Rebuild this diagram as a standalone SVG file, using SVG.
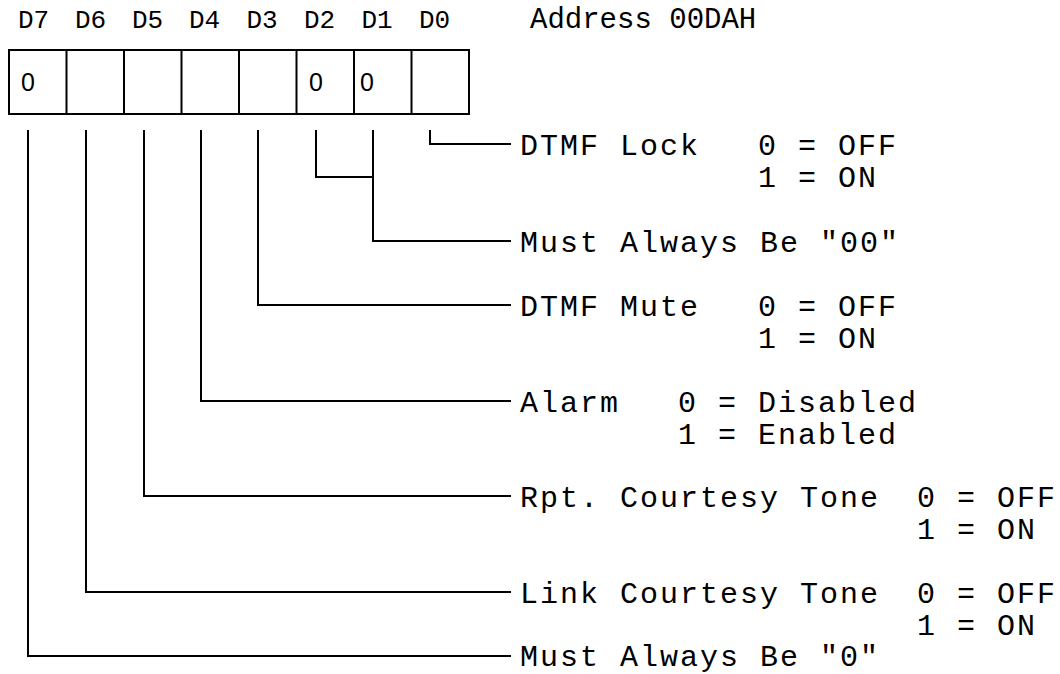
<svg xmlns="http://www.w3.org/2000/svg" width="1060" height="674" viewBox="0 0 1060 674">
<style>
.t{font-family:"Liberation Mono","Courier New",monospace;font-size:30px;letter-spacing:2px;fill:#000}
.a{font-family:"Liberation Mono","Courier New",monospace;font-size:29px;fill:#000}
.h{font-family:"Liberation Mono","Courier New",monospace;font-size:26px;fill:#000;text-anchor:middle}
.c{font-family:"Liberation Sans",Arial,sans-serif;font-size:25px;fill:#000}
.ln{fill:none;stroke:#000;stroke-width:2}
</style>
<rect width="1060" height="674" fill="#fff"/>
<g id="header">
<text class="h" x="33.5" y="28">D7</text>
<text class="h" x="90.5" y="28">D6</text>
<text class="h" x="147.5" y="28">D5</text>
<text class="h" x="204.5" y="28">D4</text>
<text class="h" x="262" y="28">D3</text>
<text class="h" x="319.5" y="28">D2</text>
<text class="h" x="377" y="28">D1</text>
<text class="h" x="434.5" y="28">D0</text>
<text class="a" x="530" y="28">Address 00DAH</text>
</g>
<g id="register">
<rect class="ln" x="9" y="50" width="460" height="64"/>
<path class="ln" d="M66.5 50V114M124 50V114M181.5 50V114M239 50V114M296.5 50V114M354 50V114M411.5 50V114"/>
<text class="c" x="21" y="91">0</text>
<text class="c" x="309" y="91">0</text>
<text class="c" x="360" y="91">0</text>
</g>
<g id="connectors">
<path class="ln" d="M430 130V144H511"/>
<path class="ln" stroke-width="1.5" d="M316 130V177H373"/>
<path class="ln" d="M373 130V241H511"/>
<path class="ln" d="M258 130V305H511"/>
<path class="ln" d="M201 130V401H511"/>
<path class="ln" d="M144 130V496H511"/>
<path class="ln" d="M86 130V592H511"/>
<path class="ln" d="M28 130V656H511"/>
</g>
<g id="d0"><text class="t" x="520" y="155">DTMF Lock</text><text class="t" x="758" y="155">0 = OFF</text><text class="t" x="758" y="187">1 = ON</text></g>
<g id="d2d1"><text class="t" x="520" y="252">Must Always Be "00"</text></g>
<g id="d3"><text class="t" x="520" y="316">DTMF Mute</text><text class="t" x="758" y="316">0 = OFF</text><text class="t" x="758" y="348">1 = ON</text></g>
<g id="d4"><text class="t" x="520" y="412">Alarm</text><text class="t" x="678" y="412">0 = Disabled</text><text class="t" x="678" y="444">1 = Enabled</text></g>
<g id="d5"><text class="t" x="520" y="507">Rpt. Courtesy Tone</text><text class="t" x="917" y="507">0 = OFF</text><text class="t" x="917" y="539">1 = ON</text></g>
<g id="d6"><text class="t" x="520" y="603">Link Courtesy Tone</text><text class="t" x="917" y="603">0 = OFF</text><text class="t" x="917" y="635">1 = ON</text></g>
<g id="d7"><text class="t" x="520" y="666">Must Always Be "0"</text></g>
</svg>
